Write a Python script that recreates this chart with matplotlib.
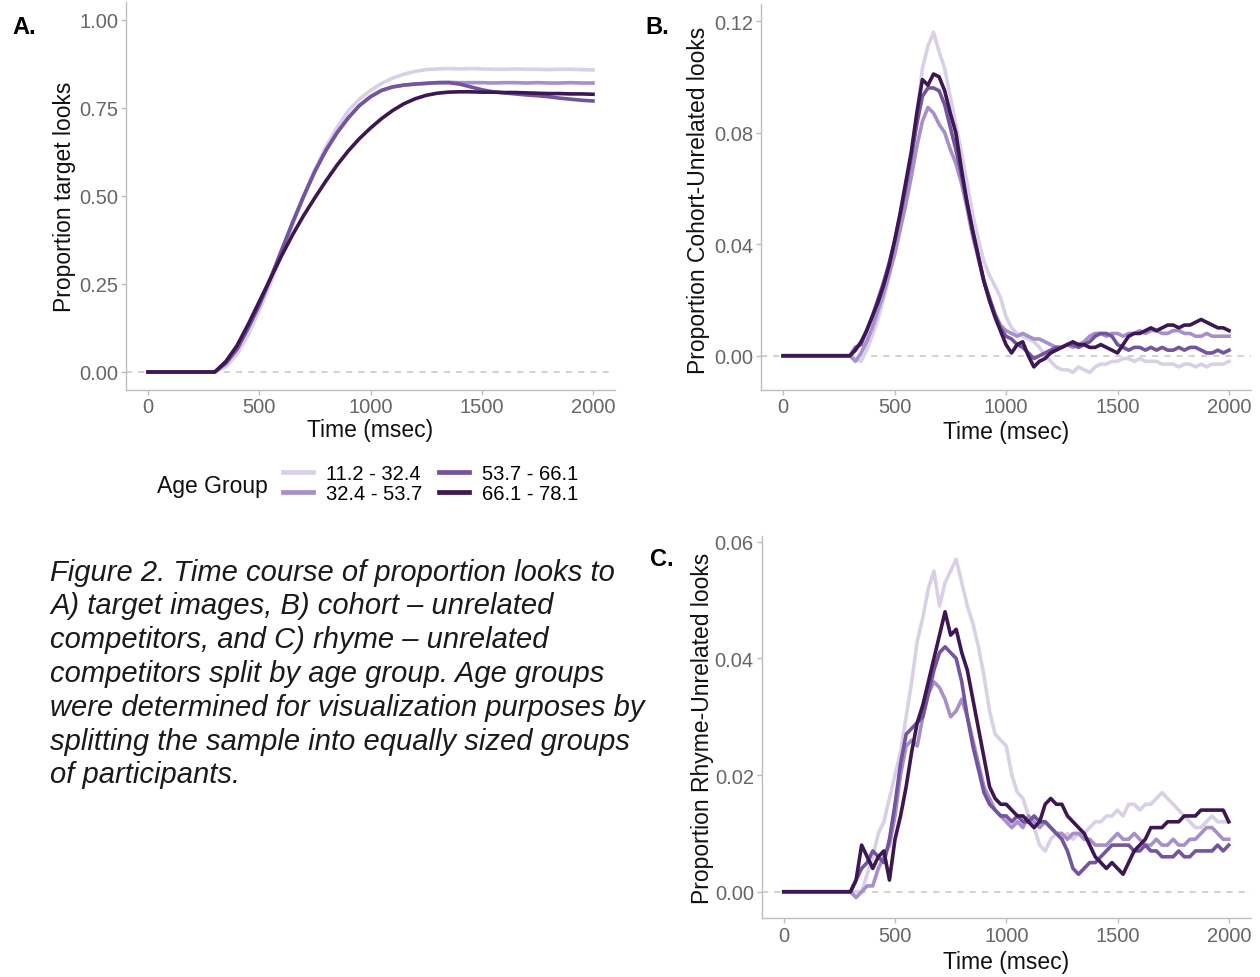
import matplotlib
matplotlib.use("Agg")
import matplotlib.pyplot as plt
from matplotlib.lines import Line2D

plt.rcParams['font.family'] = ['Liberation Sans', 'DejaVu Sans']

# ---------------- data ----------------
age_groups = ["11.2 - 32.4", "32.4 - 53.7", "53.7 - 66.1", "66.1 - 78.1"]
group_colors = ["#d9d0e8", "#a68fca", "#72549f", "#3d1752"]

# Panel A: 50 ms grid (0 ms, then 300..2000)
time_a = [0] + list(range(300, 2001, 50))
target_g1 = [0, 0, 0.015, 0.05, 0.105, 0.175, 0.25, 0.335, 0.42, 0.50, 0.575, 0.64, 0.695,
             0.742, 0.775, 0.80, 0.82, 0.835, 0.846, 0.854, 0.859, 0.861, 0.862, 0.861, 0.862,
             0.861, 0.860, 0.860, 0.861, 0.860, 0.860, 0.859, 0.860, 0.860, 0.859, 0.858]
target_g2 = [0, 0, 0.025, 0.065, 0.125, 0.19, 0.265, 0.345, 0.425, 0.50, 0.57, 0.63, 0.68,
             0.722, 0.757, 0.782, 0.80, 0.81, 0.815, 0.818, 0.82, 0.822, 0.823, 0.822, 0.822,
             0.822, 0.821, 0.822, 0.822, 0.821, 0.822, 0.821, 0.821, 0.822, 0.821, 0.821]
target_g3 = [0, 0, 0.025, 0.065, 0.125, 0.19, 0.265, 0.345, 0.425, 0.50, 0.57, 0.63, 0.68,
             0.722, 0.757, 0.782, 0.80, 0.81, 0.815, 0.818, 0.82, 0.822, 0.822, 0.818, 0.81,
             0.802, 0.796, 0.793, 0.79, 0.787, 0.785, 0.782, 0.778, 0.775, 0.772, 0.770]
target_g4 = [0, 0, 0.03, 0.075, 0.135, 0.20, 0.265, 0.33, 0.39, 0.445, 0.495, 0.543, 0.588,
             0.628, 0.663, 0.693, 0.72, 0.743, 0.762, 0.776, 0.786, 0.792, 0.795, 0.796, 0.796,
             0.795, 0.795, 0.794, 0.794, 0.793, 0.792, 0.791, 0.791, 0.790, 0.790, 0.789]

# Panels B and C: 25 ms grid (0 ms, then 300..2000)
time_bc = [0] + list(range(300, 2001, 25))

cohort_g1 = [0, 0.000, -0.001, -0.002, 0.002, 0.007, 0.013, 0.020, 0.028, 0.037, 0.047, 0.058, 0.070,
             0.086, 0.103, 0.111, 0.116, 0.109, 0.103, 0.093, 0.083, 0.073, 0.062, 0.051, 0.042,
             0.034, 0.029, 0.025, 0.021, 0.014, 0.010, 0.008, 0.007, 0.006, 0.005, 0.003, 0.000,
             -0.002, -0.004, -0.005, -0.005, -0.006, -0.004, -0.005, -0.006, -0.004, -0.003, -0.003,
             -0.002, -0.002, -0.001, -0.001, -0.002, -0.001, -0.002, -0.002, -0.002, -0.003, -0.003,
             -0.003, -0.004, -0.003, -0.003, -0.004, -0.003, -0.004, -0.003, -0.003, -0.003, -0.002]
cohort_g2 = [0, 0.000, -0.002, 0.001, 0.005, 0.010, 0.016, 0.022, 0.029, 0.036, 0.045, 0.054, 0.064,
             0.075, 0.084, 0.089, 0.087, 0.083, 0.080, 0.074, 0.069, 0.062, 0.053, 0.043, 0.035,
             0.027, 0.020, 0.015, 0.011, 0.009, 0.008, 0.007, 0.008, 0.007, 0.006, 0.006, 0.005,
             0.004, 0.003, 0.003, 0.004, 0.003, 0.004, 0.005, 0.007, 0.008, 0.008, 0.007, 0.008,
             0.008, 0.007, 0.008, 0.008, 0.009, 0.008, 0.009, 0.009, 0.008, 0.008, 0.009, 0.009,
             0.008, 0.008, 0.007, 0.007, 0.008, 0.007, 0.007, 0.007, 0.007]
cohort_g3 = [0, 0.000, 0.003, 0.004, 0.009, 0.014, 0.020, 0.026, 0.033, 0.041, 0.050, 0.060, 0.071,
             0.083, 0.093, 0.096, 0.096, 0.095, 0.090, 0.082, 0.074, 0.065, 0.055, 0.045, 0.036,
             0.027, 0.021, 0.015, 0.010, 0.007, 0.006, 0.004, 0.003, 0.001, -0.001, 0.000, 0.001,
             0.002, 0.003, 0.003, 0.004, 0.004, 0.003, 0.004, 0.005, 0.007, 0.008, 0.008, 0.007,
             0.004, 0.003, 0.002, 0.003, 0.003, 0.002, 0.003, 0.002, 0.003, 0.002, 0.002, 0.003,
             0.002, 0.003, 0.003, 0.002, 0.001, 0.001, 0.002, 0.001, 0.002]
cohort_g4 = [0, 0.000, 0.002, 0.005, 0.009, 0.014, 0.019, 0.025, 0.032, 0.041, 0.051, 0.062, 0.073,
             0.087, 0.099, 0.097, 0.101, 0.100, 0.095, 0.087, 0.080, 0.067, 0.055, 0.045, 0.036,
             0.027, 0.020, 0.014, 0.009, 0.004, 0.001, 0.004, 0.005, 0.000, -0.004, -0.002, -0.001,
             0.001, 0.002, 0.003, 0.004, 0.005, 0.004, 0.004, 0.003, 0.003, 0.004, 0.003, 0.002,
             0.001, 0.004, 0.007, 0.008, 0.008, 0.009, 0.010, 0.009, 0.010, 0.011, 0.011, 0.010,
             0.011, 0.011, 0.012, 0.013, 0.012, 0.011, 0.010, 0.010, 0.009]

rhyme_g1 = [0, 0.000, 0.000, 0.000, 0.003, 0.006, 0.010, 0.012, 0.016, 0.020, 0.024, 0.030, 0.036,
            0.043, 0.047, 0.052, 0.055, 0.049, 0.053, 0.055, 0.057, 0.053, 0.049, 0.046, 0.042,
            0.037, 0.031, 0.027, 0.026, 0.025, 0.020, 0.017, 0.016, 0.013, 0.011, 0.008, 0.007,
            0.009, 0.010, 0.009, 0.010, 0.009, 0.010, 0.010, 0.011, 0.012, 0.012, 0.013, 0.013,
            0.014, 0.013, 0.015, 0.015, 0.014, 0.015, 0.015, 0.016, 0.017, 0.016, 0.015, 0.014,
            0.013, 0.012, 0.011, 0.011, 0.012, 0.013, 0.012, 0.012, 0.012]
rhyme_g2 = [0, 0.000, -0.001, 0.000, 0.001, 0.001, 0.004, 0.006, 0.008, 0.013, 0.020, 0.025, 0.026,
            0.025, 0.030, 0.034, 0.036, 0.035, 0.033, 0.030, 0.031, 0.033, 0.030, 0.026, 0.022,
            0.018, 0.016, 0.014, 0.013, 0.012, 0.011, 0.012, 0.011, 0.013, 0.012, 0.011, 0.012,
            0.011, 0.010, 0.010, 0.009, 0.010, 0.010, 0.009, 0.009, 0.008, 0.008, 0.008, 0.009,
            0.010, 0.009, 0.009, 0.010, 0.009, 0.008, 0.008, 0.009, 0.008, 0.008, 0.009, 0.008,
            0.008, 0.009, 0.009, 0.010, 0.011, 0.011, 0.010, 0.009, 0.009]
rhyme_g3 = [0, 0.000, 0.002, 0.004, 0.005, 0.007, 0.006, 0.005, 0.009, 0.015, 0.022, 0.027, 0.028,
            0.029, 0.030, 0.034, 0.038, 0.041, 0.042, 0.041, 0.040, 0.036, 0.030, 0.025, 0.021,
            0.017, 0.015, 0.014, 0.013, 0.013, 0.012, 0.013, 0.012, 0.012, 0.013, 0.012, 0.012,
            0.011, 0.010, 0.009, 0.007, 0.004, 0.003, 0.004, 0.005, 0.005, 0.006, 0.007, 0.008,
            0.008, 0.008, 0.008, 0.007, 0.007, 0.008, 0.007, 0.007, 0.006, 0.006, 0.006, 0.007,
            0.006, 0.006, 0.007, 0.007, 0.007, 0.007, 0.008, 0.007, 0.008]
rhyme_g4 = [0, 0.000, 0.002, 0.008, 0.006, 0.004, 0.006, 0.007, 0.002, 0.009, 0.013, 0.018, 0.024,
            0.029, 0.032, 0.036, 0.040, 0.044, 0.048, 0.044, 0.045, 0.041, 0.038, 0.033, 0.028,
            0.023, 0.018, 0.016, 0.015, 0.015, 0.014, 0.013, 0.013, 0.012, 0.011, 0.012, 0.015,
            0.016, 0.015, 0.015, 0.013, 0.012, 0.011, 0.010, 0.008, 0.006, 0.005, 0.004, 0.005,
            0.004, 0.003, 0.005, 0.007, 0.008, 0.009, 0.011, 0.011, 0.011, 0.012, 0.012, 0.012,
            0.013, 0.013, 0.013, 0.014, 0.014, 0.014, 0.014, 0.014, 0.012]

x_ticks = [0, 500, 1000, 1500, 2000]
a_yticks = [0.00, 0.25, 0.50, 0.75, 1.00]
b_yticks = [0.00, 0.04, 0.08, 0.12]
c_yticks = [0.00, 0.02, 0.04, 0.06]

caption_lines = [
    "Figure 2. Time course of proportion looks to",
    "A) target images, B) cohort \u2013 unrelated",
    "competitors, and C) rhyme \u2013 unrelated",
    "competitors split by age group. Age groups",
    "were determined for visualization purposes by",
    "splitting the sample into equally sized groups",
    "of participants.",
]

# ---------------- layout ----------------
W, H = 1260, 978
fig = plt.figure(figsize=(W / 100, H / 100), dpi=100)
fig.patch.set_facecolor("white")


def px_axes(left, right, top, bottom):
    return fig.add_axes([left / W, 1 - bottom / H, (right - left) / W, (bottom - top) / H])


TICK_COLOR = "#666666"
SPINE_COLOR = "#bdbdbd"


def style(ax, xlim, ylim, yticks, yfmt):
    ax.set_xlim(*xlim)
    ax.set_ylim(*ylim)
    ax.set_xticks(x_ticks)
    ax.set_yticks(yticks)
    ax.set_yticklabels([yfmt.format(v) for v in yticks])
    for s in ["top", "right"]:
        ax.spines[s].set_visible(False)
    for s in ["left", "bottom"]:
        ax.spines[s].set_color(SPINE_COLOR)
        ax.spines[s].set_linewidth(1.0)
    ax.tick_params(colors=SPINE_COLOR, labelcolor=TICK_COLOR, labelsize=14.5, length=3.5, width=1.0,
                   pad=2)
    ax.axhline(0, color="#c4c4c4", lw=1.1, ls=(0, (4, 4)), zorder=1)
    ax.set_xlabel("Time (msec)", fontsize=16.5, color="#111111", labelpad=1)


axA = px_axes(125.75, 615.25, 3.4, 390.6)
axB = px_axes(760.7, 1251.3, 5, 390.5)
axC = px_axes(761.5, 1251.0, 537, 919)

seriesA = [target_g1, target_g2, target_g3, target_g4]
seriesB = [cohort_g1, cohort_g2, cohort_g3, cohort_g4]
seriesC = [rhyme_g1, rhyme_g2, rhyme_g3, rhyme_g4]

LW = 2.6
for ys, c in zip(seriesA, group_colors):
    axA.plot(time_a, ys, color=c, lw=LW, zorder=3, solid_joinstyle="round")
for ys, c in zip(seriesB, group_colors):
    axB.plot(time_bc, ys, color=c, lw=LW, zorder=3, solid_joinstyle="round")
for ys, c in zip(seriesC, group_colors):
    axC.plot(time_bc, ys, color=c, lw=LW, zorder=3, solid_joinstyle="round")

style(axA, (-100, 2100), (-0.05, 1.05), a_yticks, "{:.2f}")
style(axB, (-100, 2100), (-0.0121, 0.1261), b_yticks, "{:.2f}")
style(axC, (-100, 2100), (-0.0045, 0.061), c_yticks, "{:.2f}")

axA.set_ylabel("Proportion target looks", fontsize=16.5, color="#111111")
axB.set_ylabel("Proportion Cohort-Unrelated looks", fontsize=16.5, color="#111111")
axC.set_ylabel("Proportion Rhyme-Unrelated looks", fontsize=16.5, color="#111111")


def label_coords(ax, px_x, px_y):
    bb = ax.get_position()
    fx, fy = px_x / W, 1 - px_y / H
    return (fx - bb.x0) / bb.width, (fy - bb.y0) / bb.height


axA.yaxis.set_label_coords(*label_coords(axA, 65, 197))
axB.yaxis.set_label_coords(*label_coords(axB, 699, 200))
axC.yaxis.set_label_coords(*label_coords(axC, 702, 728))
axA.xaxis.set_label_coords(*label_coords(axA, 370.5, 431))
axB.xaxis.set_label_coords(*label_coords(axB, 1006, 433))
axC.xaxis.set_label_coords(*label_coords(axC, 1006, 963))
for ax in (axA, axB, axC):
    ax.xaxis.label.set_verticalalignment("center")
    ax.yaxis.label.set_verticalalignment("center")

# panel letters
fig.text(12 / W, 1 - 27 / H, "A.", fontsize=17, fontweight="bold", va="center")
fig.text(645 / W, 1 - 27 / H, "B.", fontsize=17, fontweight="bold", va="center")
fig.text(650 / W, 1 - 560 / H, "C.", fontsize=17, fontweight="bold", va="center")

# legend
fig.text(157 / W, 1 - 487 / H, "Age Group", fontsize=16.5, va="center", color="#111111")
handles = [Line2D([0], [0], color=c, lw=3.4) for c in group_colors]
fig.legend(handles, age_groups, loc="center left", bbox_to_anchor=(283 / W, 1 - 484.5 / H),
           ncol=2, frameon=False, fontsize=14.5, handlelength=1.5, handletextpad=0.62,
           columnspacing=0.85, labelspacing=0.08, borderaxespad=0, borderpad=0)

# caption
line_y = [573, 606.5, 640.5, 674.5, 708, 742, 775.5]
for txt, yy in zip(caption_lines, line_y):
    fig.text(50 / W, 1 - yy / H, txt, fontsize=21, style="italic", va="center", color="#1a1a1a")

fig.savefig("out.png", dpi=100, facecolor="white")
